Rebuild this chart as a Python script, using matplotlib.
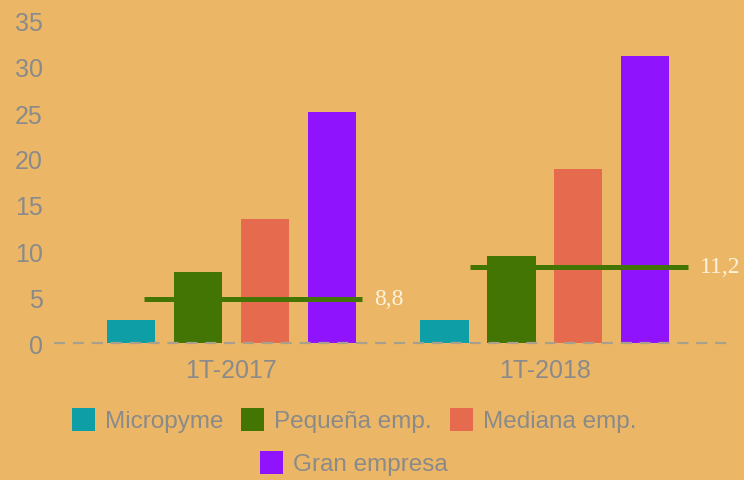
import matplotlib.pyplot as plt
from matplotlib.patches import Patch
import numpy as np

plt.rcParams['font.family'] = ['Liberation Sans', 'DejaVu Sans']

periodos = ["1T-2017", "1T-2018"]
series = ["Micropyme", "Pequeña emp.", "Mediana emp.", "Gran empresa"]
valores = {
    "Micropyme": [2.5, 2.5],
    "Pequeña emp.": [7.7, 9.5],
    "Mediana emp.": [13.5, 18.9],
    "Gran empresa": [25.1, 31.2],
}
colores = ["#0e9fa6", "#437504", "#e66b4e", "#9013fe"]
linea_media = [4.8, 8.3]
etiqueta_media = ["8,8", "11,2"]

bg = "#ebb767"
gris = "#8a8a8a"

fig = plt.figure(figsize=(7.44, 4.81), dpi=100, facecolor=bg)
ax = fig.add_axes([54 / 744, 1 - 344 / 481, (728 - 54) / 744, (344 - 22) / 481])
ax.set_facecolor(bg)

x = np.arange(len(periodos))
paso = 0.2134
ancho = 0.153
for i, s in enumerate(series):
    ax.bar(x + (i - 1.5) * paso, valores[s], width=ancho, color=colores[i], zorder=2)

# linea de referencia por periodo
tramos = [(-0.277, 0.417), (-0.239, 0.455)]
for xi, (a, b), v, t in zip(x, tramos, linea_media, etiqueta_media):
    ax.plot([xi + a, xi + b], [v, v], color="#437504", lw=3.6, zorder=3,
            solid_capstyle="butt")
    ax.text(xi + b + 0.04, v, t, color="#fdf3dc", fontsize=17,
            family="Liberation Serif", va="center", ha="left", zorder=4)

ax.axhline(0, color="#a89f8c", lw=1.6, ls=(0, (5, 3.5)), zorder=3, clip_on=False)

ax.set_xlim(-0.564, 1.583)
ax.set_ylim(0, 35)
ax.set_yticks(range(0, 36, 5))
ax.set_xticks(x)
ax.set_xticklabels(periodos)
ax.tick_params(axis="both", length=0, labelsize=18, labelcolor=gris)
ax.tick_params(axis="y", pad=8)
ax.tick_params(axis="x", pad=11)
for sp in ax.spines.values():
    sp.set_visible(False)

handles = [Patch(facecolor=c, edgecolor="none") for c in colores]
leg_kw = dict(loc="center", frameon=False, fontsize=17.5, labelcolor=gris,
              handlelength=0.95, handleheight=1.1, handletextpad=0.4,
              columnspacing=0.75)
fig.legend(handles[:3], series[:3], ncol=3,
           bbox_to_anchor=(354 / 744, 1 - 421 / 481), **leg_kw)
fig.legend(handles[3:], series[3:], ncol=1,
           bbox_to_anchor=(354 / 744, 1 - 464 / 481), **leg_kw)

fig.savefig("out.png", dpi=100, facecolor=bg)
